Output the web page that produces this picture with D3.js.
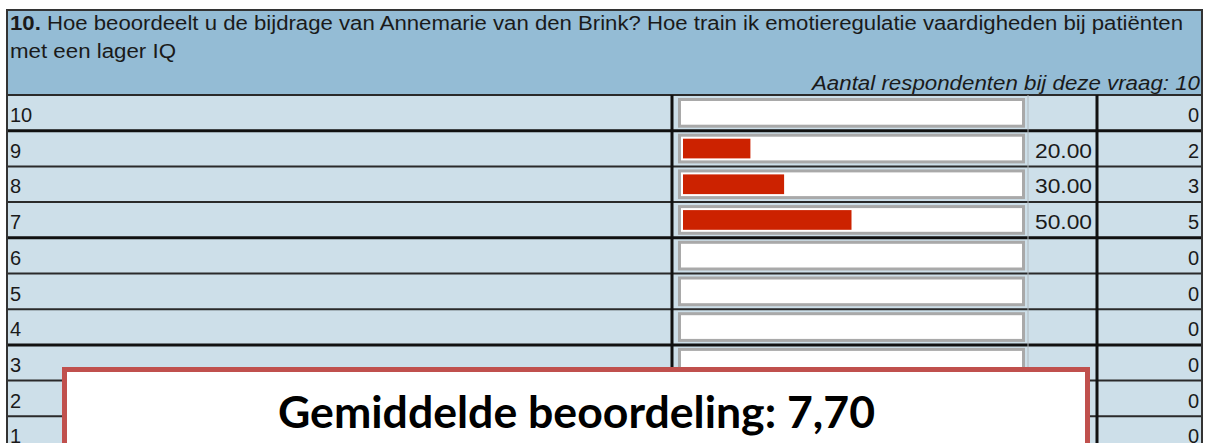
<!DOCTYPE html>
<html>
<head>
<meta charset="utf-8">
<script src="https://cdn.jsdelivr.net/npm/d3@7"></script>
<style>
  body { margin: 0; background: #fff; }
</style>
</head>
<body>
<div id="chart"></div>
<script>
// data
const questionNo = "10.";
const questionText = [" Hoe beoordeelt u de bijdrage van Annemarie van den Brink? Hoe train ik emotieregulatie vaardigheden bij patiënten", "met een lager IQ"];
const respondentsLabel = "Aantal respondenten bij deze vraag: 10";
const ratings = ["10", "9", "8", "7", "6", "5", "4", "3", "2", "1"];
const percentages = [null, 20, 30, 50, null, null, null, null, null, null];
const counts = [0, 2, 3, 5, 0, 0, 0, 0, 0, 0];
const averageLabel = "Gemiddelde beoordeling: 7,70";

const W = 1207, H = 443;
const table = { left: 7, right: 1202, top: 10, headerBottom: 95 };
const col = { bar: 672, pct: 1028, count: 1097 };
const textFont = "'Liberation Sans', Arial, sans-serif";

const svg = d3.select("#chart")
    .append("svg")
    .attr("width", W)
    .attr("height", H);

// row scale
const y = d3.scaleBand()
    .domain(ratings)
    .range([table.headerBottom, table.headerBottom + ratings.length * 35.7]);

// bar scale (percent)
const x = d3.scaleLinear()
    .domain([0, 100])
    .range([683, 1020]);

// header
svg.append("rect")
    .attr("x", table.left).attr("y", table.top)
    .attr("width", table.right - table.left)
    .attr("height", table.headerBottom - table.top)
    .attr("fill", "#94bcd5");

const headerText = svg.append("g")
    .style("font-family", textFont)
    .style("font-size", "20px")
    .style("fill", "#1a1a1a");

const line1 = headerText.append("text")
    .attr("x", 10).attr("y", 30)
    .attr("textLength", 1173).attr("lengthAdjust", "spacingAndGlyphs");
line1.append("tspan").attr("font-weight", "bold").text(questionNo);
line1.append("tspan").text(questionText[0]);
headerText.append("text")
    .attr("x", 10).attr("y", 58)
    .attr("textLength", 166).attr("lengthAdjust", "spacingAndGlyphs")
    .text(questionText[1]);
headerText.append("text")
    .attr("x", 812).attr("y", 90)
    .attr("textLength", 388).attr("lengthAdjust", "spacingAndGlyphs")
    .style("font-style", "italic")
    .text(respondentsLabel);

// rows
const rows = svg.append("g")
    .selectAll("g")
    .data(ratings)
    .enter().append("g");

rows.append("rect")
    .attr("x", table.left)
    .attr("y", d => y(d))
    .attr("width", table.right - table.left)
    .attr("height", y.bandwidth())
    .attr("fill", "#cddfe9");

// bar boxes
rows.append("rect")
    .attr("x", 679.5)
    .attr("y", d => y(d) + 4.5)
    .attr("width", 344)
    .attr("height", y.bandwidth() - 9)
    .attr("fill", "#fff")
    .attr("stroke", "#a9a9a9")
    .attr("stroke-width", 3);

// red bars
rows.filter((d, i) => percentages[i] != null)
    .append("rect")
    .attr("x", x(0))
    .attr("y", d => y(d) + 8)
    .attr("width", d => x(percentages[ratings.indexOf(d)]) - x(0))
    .attr("height", y.bandwidth() - 16)
    .attr("fill", "#cc2200");

const cellText = rows.append("g")
    .style("font-family", textFont)
    .style("font-size", "20px")
    .style("fill", "#1a1a1a");

cellText.append("text")
    .attr("x", 10)
    .attr("y", d => y(d) + 27)
    .text(d => d);

cellText.filter((d, i) => percentages[i] != null)
    .append("text")
    .attr("x", 1035)
    .attr("y", d => y(d) + 27)
    .attr("textLength", 57).attr("lengthAdjust", "spacingAndGlyphs")
    .text(d => percentages[ratings.indexOf(d)].toFixed(2));

cellText.append("text")
    .attr("x", 1199)
    .attr("y", d => y(d) + 27)
    .attr("text-anchor", "end")
    .text((d, i) => counts[i]);

// horizontal row separators
const thick = new Set(["9", "6", "3"]);
svg.append("g")
    .selectAll("line")
    .data(ratings)
    .enter().append("line")
    .attr("x1", table.left).attr("x2", table.right)
    .attr("y1", d => y(d)).attr("y2", d => y(d))
    .attr("stroke", d => thick.has(d) ? "#111" : "#2a2a2a")
    .attr("stroke-width", d => thick.has(d) ? 3 : 2);

// vertical separators
svg.append("line")
    .attr("x1", col.bar).attr("x2", col.bar)
    .attr("y1", table.headerBottom).attr("y2", H)
    .attr("stroke", "#111").attr("stroke-width", 3);
svg.append("line")
    .attr("x1", col.pct).attr("x2", col.pct)
    .attr("y1", table.headerBottom).attr("y2", H)
    .attr("stroke", "#b0b8bd").attr("stroke-width", 1);
svg.append("line")
    .attr("x1", col.count).attr("x2", col.count)
    .attr("y1", table.headerBottom).attr("y2", H)
    .attr("stroke", "#111").attr("stroke-width", 3);

// outer border
svg.append("rect")
    .attr("x", table.left).attr("y", table.top)
    .attr("width", table.right - table.left)
    .attr("height", H + 10 - table.top)
    .attr("fill", "none")
    .attr("stroke", "#333").attr("stroke-width", 2);

// average box
svg.append("rect")
    .attr("x", 64.5).attr("y", 369.5)
    .attr("width", 1023).attr("height", 90)
    .attr("fill", "#fff")
    .attr("stroke", "#c0504d").attr("stroke-width", 5);

svg.append("text")
    .attr("x", 278).attr("y", 428)
    .attr("textLength", 597).attr("lengthAdjust", "spacingAndGlyphs")
    .style("font-family", "Lato, sans-serif")
    .style("font-weight", "bold")
    .style("font-size", "43px")
    .style("fill", "#000")
    .text(averageLabel);
</script>
</body>
</html>
